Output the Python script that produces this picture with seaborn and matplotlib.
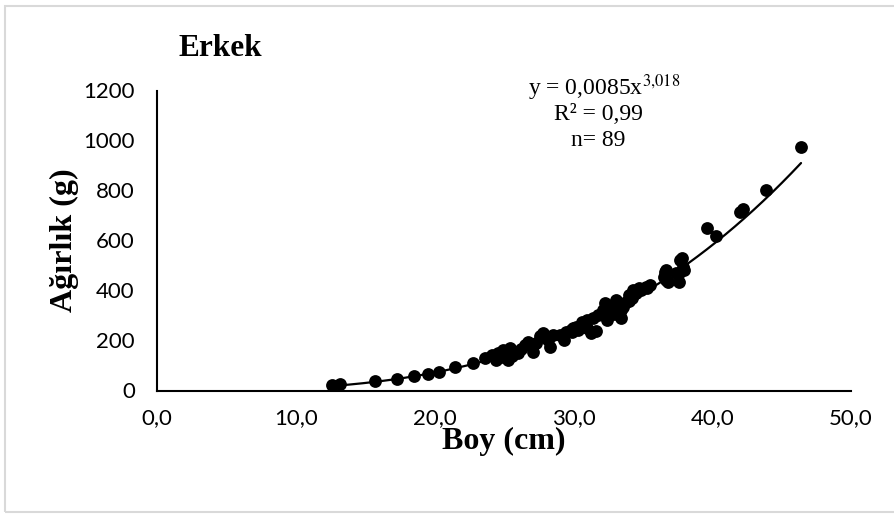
import numpy as np
import pandas as pd
import seaborn as sns
import matplotlib.pyplot as plt
from matplotlib.patches import Rectangle
from matplotlib.ticker import FuncFormatter

# Boy (cm) ve Ağırlık (g) - Erkek bireyler
boy = [12.6, 13.2, 15.7, 17.3, 18.5, 19.5, 20.3, 21.5, 22.8,
       23.6, 24.1, 24.6, 24.9, 25.3, 25.4, 25.8, 24.4, 26.2, 26.5,
       26.7, 27.1, 27.6, 27.8, 28.2, 28.3, 28.5, 29.0, 29.3, 29.5,
       29.8, 30.0, 30.2, 30.3, 30.6, 30.8, 31.0, 31.3, 31.4, 31.8,
       32.1, 32.3, 32.4, 32.6, 32.8, 32.9, 33.1, 33.4, 33.4, 33.6,
       33.8, 34.0, 34.2, 34.3, 34.5, 34.7, 34.9, 35.2, 35.5, 36.5,
       36.6, 36.7, 36.8, 37.4, 37.6, 37.7, 37.8, 37.9, 38.0, 37.6,
       36.7, 39.6, 40.3, 42.0, 42.2, 43.9, 46.4,
       24.8, 25.1, 25.6, 26.0, 27.3, 28.0, 29.9, 31.0, 31.6, 32.9,
       33.4, 34.0, 35.3]
agirlik = [24, 25, 38, 46, 59, 65, 73, 93, 111,
           130, 142, 150, 162, 122, 170, 154, 122, 166, 182,
           195, 155, 218, 230, 202, 175, 222, 222, 202, 234,
           242, 250, 255, 242, 275, 262, 282, 230, 290, 302,
           322, 349, 282, 334, 316, 342, 362, 289, 322, 336,
           354, 382, 370, 402, 390, 409, 402, 416, 422, 456,
           476, 442, 436, 469, 469, 523, 529, 496, 483, 436,
           483, 652, 620, 716, 726, 803, 974,
           135, 145, 140, 150, 190, 210, 235, 250, 240, 305,
           345, 360, 410]

# Güç trendi katsayıları (grafikteki denklem)
fit_a = 0.0085
fit_b = 3.018
r2_text = "0,99"
n_text = "89"

x_ticks = [0, 10, 20, 30, 40, 50]
y_ticks = [0, 200, 400, 600, 800, 1000, 1200]

df = pd.DataFrame({"boy": boy, "agirlik": agirlik})
fit_x = np.linspace(min(boy), max(boy), 200)
fit = pd.DataFrame({"boy": fit_x, "agirlik": fit_a * fit_x ** fit_b})

sns.set_style("white")
plt.rcParams["font.family"] = ["Lato", "DejaVu Sans"]
plt.rcParams["text.color"] = "black"
plt.rcParams["axes.labelcolor"] = "black"

fig = plt.figure(figsize=(8.94, 5.18), dpi=100)
ax = fig.add_axes([157 / 894, 1 - 390.5 / 518, 694 / 894, 300 / 518])

sns.lineplot(data=fit, x="boy", y="agirlik", color="black", linewidth=1.6, ax=ax)
sns.scatterplot(data=df, x="boy", y="agirlik", color="black", s=85,
                edgecolor="black", linewidth=0, ax=ax, zorder=3)

ax.set_xlim(0, 50)
ax.set_ylim(0, 1200)
ax.set_xticks(x_ticks)
ax.set_yticks(y_ticks)
ax.xaxis.set_major_formatter(FuncFormatter(lambda v, p: f"{v:.1f}".replace(".", ",")))
ax.tick_params(axis="both", length=0, labelsize=16, colors="black")
ax.tick_params(axis="x", pad=13)
ax.tick_params(axis="y", pad=16)
for s in ["top", "right"]:
    ax.spines[s].set_visible(False)
for s in ["left", "bottom"]:
    ax.spines[s].set_color("black")
    ax.spines[s].set_linewidth(1.5)

serif = ["Liberation Serif", "DejaVu Serif"]
ax.set_xlabel("Boy (cm)", fontsize=23, fontweight="bold", family=serif)
ax.set_ylabel("Ağırlık (g)", fontsize=23, fontweight="bold", family=serif)
ax.xaxis.set_label_coords(0.5, -0.12)
ax.yaxis.set_label_coords(-0.112, 0.5)

fig.text(220 / 894, 1 - 48 / 518, "Erkek", fontsize=22.5, fontweight="bold",
         family=serif, ha="center", va="center")

exp_txt = str(fit_b).replace(".", "{,}")
eq = f"y = {str(fit_a).replace('.', ',')}x$^{{{exp_txt}}}$"
fig.text(604 / 894, 1 - 88 / 518, eq, fontsize=17, family=serif,
         ha="center", va="center", math_fontfamily="stix")
fig.text(598 / 894, 1 - 114 / 518, f"R² = {r2_text}", fontsize=17, family=serif,
         ha="center", va="center")
fig.text(598 / 894, 1 - 140 / 518, f"n= {n_text}", fontsize=17, family=serif,
         ha="center", va="center")

fig.patches.append(Rectangle((5 / 894, 6 / 518), 1.2, 506 / 518,
                             transform=fig.transFigure, fill=False,
                             edgecolor="#d9d9d9", linewidth=1.5))

fig.savefig("out.png", dpi=100)
